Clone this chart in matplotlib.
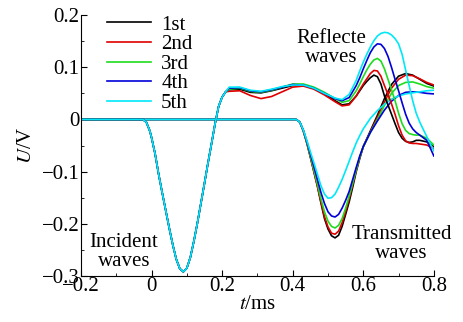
import numpy as np
import matplotlib
matplotlib.use('Agg')
import matplotlib.pyplot as plt
from matplotlib.ticker import MultipleLocator, FuncFormatter

plt.rcParams['font.family'] = ['Liberation Serif', 'DejaVu Serif']
plt.rcParams['mathtext.fontset'] = 'stix'

labels = ['1st', '2nd', '3rd', '4th', '5th']
colors = ['black', '#e00000', '#1edc1e', '#0000d8', '#00e8f8']

# incident wave (same for all tests)
t_inc = [-0.20, -0.025, -0.015, -0.005, 0.00, 0.01, 0.02, 0.03, 0.04, 0.05, 0.06,
         0.07, 0.08, 0.09, 0.10, 0.11, 0.12, 0.13, 0.14, 0.15, 0.16, 0.17, 0.18,
         0.19, 0.20, 0.21]
u_inc = [0.0, 0.0, -0.005, -0.022, -0.035, -0.066, -0.105, -0.140, -0.174, -0.208, -0.240,
         -0.268, -0.286, -0.292, -0.285, -0.264, -0.233, -0.198, -0.160, -0.122, -0.083,
         -0.046, -0.008, 0.025, 0.043, 0.053]

# reflected part of the incident-bar signal
t_ref = [0.22, 0.25, 0.28, 0.31, 0.34, 0.37, 0.40, 0.43, 0.46, 0.49, 0.52, 0.54, 0.56,
         0.58, 0.59, 0.60, 0.61, 0.62, 0.63, 0.64, 0.65, 0.66, 0.67, 0.68, 0.69, 0.70,
         0.71, 0.72, 0.73, 0.74, 0.75, 0.76, 0.78, 0.80]
u_ref_1 = [0.057, 0.058, 0.052, 0.051, 0.055, 0.060, 0.065, 0.066, 0.060, 0.050, 0.036, 0.028, 0.030,
           0.045, 0.055, 0.065, 0.073, 0.080, 0.085, 0.082, 0.068, 0.045, 0.028, 0.010, -0.008, -0.025,
           -0.036, -0.042, -0.044, -0.043, -0.040, -0.040, -0.043, -0.052]
u_ref_2 = [0.054, 0.055, 0.046, 0.040, 0.044, 0.053, 0.062, 0.064, 0.058, 0.047, 0.034, 0.026, 0.028,
           0.045, 0.057, 0.068, 0.078, 0.088, 0.094, 0.093, 0.083, 0.065, 0.048, 0.030, 0.010, -0.012,
           -0.030, -0.041, -0.045, -0.046, -0.046, -0.047, -0.049, -0.056]
u_ref_3 = [0.058, 0.060, 0.054, 0.052, 0.056, 0.062, 0.068, 0.068, 0.062, 0.052, 0.040, 0.033, 0.036,
           0.055, 0.068, 0.082, 0.095, 0.106, 0.114, 0.117, 0.112, 0.097, 0.077, 0.057, 0.036, 0.012,
           -0.008, -0.021, -0.027, -0.029, -0.030, -0.030, -0.036, -0.049]
u_ref_4 = [0.060, 0.061, 0.055, 0.053, 0.057, 0.062, 0.067, 0.066, 0.060, 0.050, 0.040, 0.036, 0.042,
           0.065, 0.080, 0.097, 0.113, 0.128, 0.139, 0.145, 0.144, 0.136, 0.121, 0.100, 0.077, 0.055,
           0.032, 0.010, -0.007, -0.018, -0.025, -0.030, -0.040, -0.070]
u_ref_5 = [0.062, 0.062, 0.056, 0.054, 0.058, 0.063, 0.066, 0.066, 0.060, 0.050, 0.041, 0.038, 0.048,
           0.075, 0.093, 0.110, 0.125, 0.139, 0.151, 0.160, 0.165, 0.167, 0.166, 0.162, 0.155, 0.145,
           0.125, 0.095, 0.065, 0.036, 0.012, -0.005, -0.033, -0.060]

# transmitted wave
t_tra = [-0.20, 0.41, 0.42, 0.43, 0.44, 0.45, 0.46, 0.47, 0.48, 0.49, 0.50, 0.51, 0.52,
         0.53, 0.54, 0.55, 0.56, 0.57, 0.58, 0.59, 0.60, 0.62, 0.64, 0.66, 0.68, 0.70,
         0.72, 0.74, 0.76, 0.78, 0.80]
u_tra_1 = [0, 0, -0.005, -0.022, -0.045, -0.072, -0.100, -0.128, -0.160, -0.190, -0.210, -0.223, -0.227,
           -0.222, -0.205, -0.182, -0.158, -0.130, -0.100, -0.075, -0.052, -0.022, 0.008, 0.040, 0.067, 0.083,
           0.088, 0.085, 0.077, 0.069, 0.064]
u_tra_2 = [0, 0, -0.005, -0.022, -0.045, -0.072, -0.100, -0.128, -0.158, -0.186, -0.206, -0.218, -0.220,
           -0.214, -0.198, -0.176, -0.152, -0.125, -0.097, -0.073, -0.052, -0.024, 0.004, 0.034, 0.060, 0.077,
           0.085, 0.084, 0.078, 0.071, 0.066]
u_tra_3 = [0, 0, -0.005, -0.021, -0.044, -0.070, -0.097, -0.124, -0.152, -0.177, -0.195, -0.205, -0.208,
           -0.203, -0.190, -0.170, -0.147, -0.122, -0.096, -0.072, -0.052, -0.025, 0.000, 0.027, 0.050, 0.065,
           0.071, 0.072, 0.068, 0.063, 0.060]
u_tra_4 = [0, 0, -0.005, -0.020, -0.042, -0.066, -0.090, -0.115, -0.140, -0.161, -0.177, -0.185, -0.187,
           -0.182, -0.170, -0.155, -0.138, -0.115, -0.092, -0.070, -0.052, -0.025, -0.003, 0.018, 0.035, 0.046,
           0.052, 0.053, 0.052, 0.050, 0.049]
u_tra_5 = [0, 0, -0.005, -0.020, -0.040, -0.062, -0.083, -0.105, -0.127, -0.143, -0.151, -0.150, -0.143,
           -0.130, -0.115, -0.098, -0.080, -0.062, -0.045, -0.031, -0.018, 0.002, 0.017, 0.029, 0.039, 0.045,
           0.049, 0.051, 0.053, 0.055, 0.056]

u_ref = [u_ref_1, u_ref_2, u_ref_3, u_ref_4, u_ref_5]
u_tra = [u_tra_1, u_tra_2, u_tra_3, u_tra_4, u_tra_5]

FS = 15

fig = plt.figure(figsize=(4.64, 3.22), dpi=100)
ax = fig.add_axes([0.1746, 0.143, 0.7604, 0.810])

for i in range(5):
    ax.plot(t_tra, u_tra[i], color=colors[i], lw=1.2)
for i in range(5):
    ax.plot(t_inc + t_ref, u_inc + u_ref[i], color=colors[i], lw=1.2, label=labels[i])

ax.set_xlim(-0.2, 0.8)
ax.set_ylim(-0.3, 0.2)
ax.spines['top'].set_visible(False)
ax.spines['right'].set_visible(False)

ax.xaxis.set_major_locator(MultipleLocator(0.2))
ax.xaxis.set_minor_locator(MultipleLocator(0.1))
ax.yaxis.set_major_locator(MultipleLocator(0.1))
ax.yaxis.set_minor_locator(MultipleLocator(0.05))

def fmt(v, pos):
    if abs(v) < 1e-9:
        return '0'
    return ('%.1f' % v).replace('-', '\u2212')

ax.xaxis.set_major_formatter(FuncFormatter(fmt))
ax.yaxis.set_major_formatter(FuncFormatter(fmt))
ax.tick_params(which='both', direction='in', labelsize=FS, pad=1)
ax.tick_params(which='major', length=4)
ax.tick_params(which='minor', length=2.5)

ax.set_xlabel('$t$/ms', fontsize=FS, labelpad=-1)
ax.set_ylabel('$U$/V', fontsize=FS, labelpad=4)

ax.legend(loc='upper left', bbox_to_anchor=(0.05, 1.032), frameon=False, fontsize=FS,
          handlelength=2.1, handletextpad=0.5, labelspacing=0.0, borderaxespad=0.0)

ax.text(0.51, 0.137, 'Reflecte\nwaves', ha='center', va='center', fontsize=FS, linespacing=0.95)
ax.text(-0.078, -0.254, 'Incident\nwaves', ha='center', va='center', fontsize=FS, linespacing=0.95)
ax.text(0.709, -0.239, 'Transmitted\nwaves', ha='center', va='center', fontsize=FS, linespacing=0.95)

fig.savefig('out.png', dpi=100)
